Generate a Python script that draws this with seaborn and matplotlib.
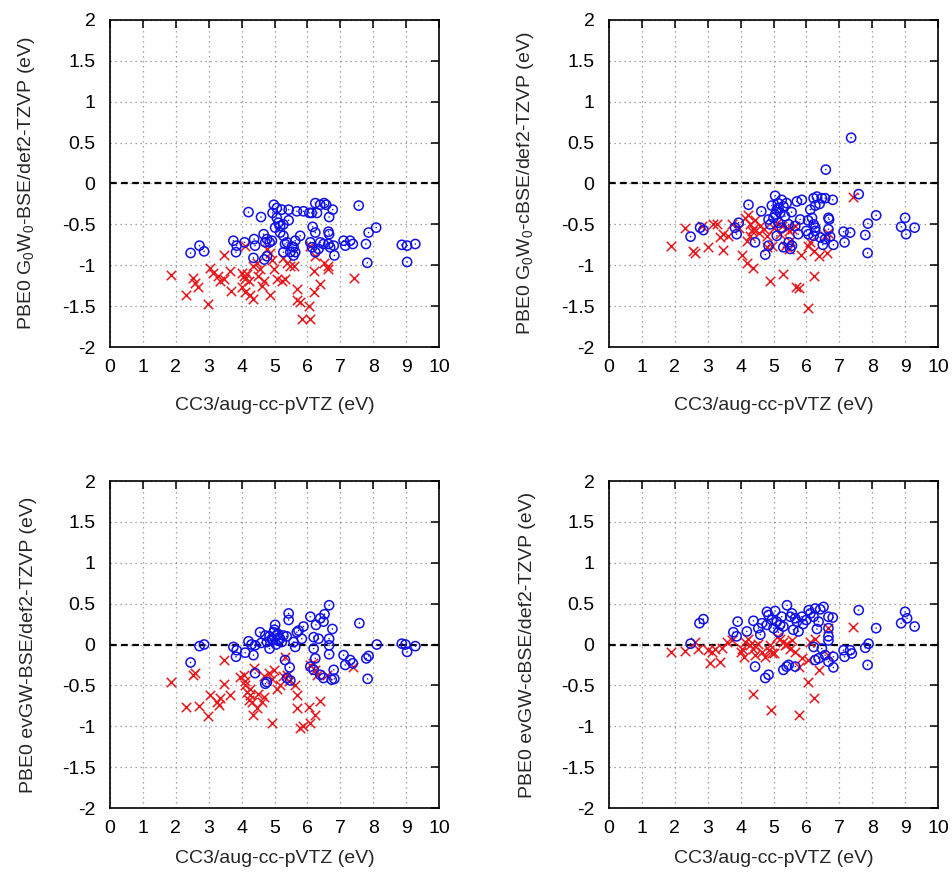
import matplotlib
matplotlib.use("Agg")
import matplotlib.pyplot as plt
import seaborn as sns
import pandas as pd
import numpy as np

# ---------------- data ----------------
tl_blue_x = [2.45,2.72,2.86,4.21,4.59,4.98,5.07,5.22,5.43,5.68,5.88,6.06,6.13,6.29,6.24,6.39,6.51,6.57,6.77,6.66,7.56,
             4.94,5.07,5.12,5.17,5.27,5.02,5.43,5.17,6.16,6.24,6.64,6.66,8.09,7.86,
             3.75,3.85,3.83,4.09,4.38,4.41,4.36,4.67,4.72,4.77,4.85,4.92,4.69,4.77,
             5.27,5.32,5.38,5.53,5.63,5.58,5.48,5.63,5.27,5.58,5.78,
             6.09,6.14,6.24,6.34,6.39,6.49,6.64,6.69,6.80,6.82,
             7.10,7.15,7.30,7.38,7.78,7.82,8.87,9.03,9.28,9.03]
tl_blue_y = [-0.85,-0.76,-0.83,-0.35,-0.41,-0.26,-0.30,-0.32,-0.32,-0.34,-0.34,-0.36,-0.36,-0.36,-0.24,-0.26,-0.24,-0.26,-0.32,-0.41,-0.27,
             -0.36,-0.42,-0.48,-0.52,-0.50,-0.54,-0.45,-0.60,-0.53,-0.60,-0.59,-0.62,-0.54,-0.60,
             -0.70,-0.76,-0.84,-0.72,-0.68,-0.76,-0.91,-0.62,-0.72,-0.68,-0.72,-0.70,-0.93,-0.89,
             -0.64,-0.74,-0.72,-0.77,-0.70,-0.78,-0.84,-0.84,-0.84,-0.88,-0.64,
             -0.72,-0.78,-0.84,-0.80,-0.72,-0.74,-0.74,-0.78,-0.76,-0.88,
             -0.70,-0.76,-0.70,-0.74,-0.74,-0.97,-0.75,-0.76,-0.74,-0.96]
tl_red_x = [1.85,2.31,2.52,2.59,2.66,2.99,3.04,3.14,3.27,3.35,3.45,3.48,3.65,3.67,
            4.00,4.06,4.11,4.16,4.21,4.09,4.00,4.11,4.26,4.36,
            4.36,4.46,4.56,4.51,4.67,4.62,4.77,4.87,4.92,4.87,
            4.97,5.07,5.22,5.32,5.27,5.37,5.48,5.58,5.68,5.68,5.78,
            6.05,5.83,6.09,6.19,6.19,6.37,6.09,6.24,6.49,6.64,6.64,7.42]
tl_red_y = [-1.12,-1.36,-1.15,-1.22,-1.27,-1.48,-1.03,-1.09,-1.13,-1.19,-1.17,-0.87,-1.07,-1.32,
            -1.09,-1.13,-1.17,-1.11,-1.19,-0.76,-1.27,-1.33,-1.37,-1.41,
            -1.01,-0.97,-1.05,-1.13,-1.19,-1.25,-0.80,-0.85,-0.93,-1.37,
            -1.05,-1.17,-1.19,-1.17,-0.91,-0.97,-1.01,-1.01,-1.29,-1.43,-1.45,
            -1.50,-1.66,-1.66,-1.07,-1.33,-1.23,-0.76,-0.89,-0.97,-1.05,-1.01,-1.16]

tr_blue_x = [7.36,6.59,7.59,4.24,
             5.05,5.13,5.25,5.40,4.95,5.10,5.20,5.30,
             5.71,5.86,6.22,6.32,6.47,6.57,6.80,6.12,6.27,
             4.63,4.85,5.00,5.05,5.15,5.25,5.46,5.66,
             5.81,6.17,6.22,6.27,6.67,6.69,
             3.94,3.83,3.88,2.77,2.87,2.48,
             4.44,4.75,4.85,5.10,5.30,5.46,5.51,5.56,
             6.00,6.06,6.22,6.27,6.42,6.57,6.67,6.72,6.82,
             7.13,7.33,7.16,7.87,7.79,8.12,7.86,9.00,8.88,9.03,9.29,
             5.15,5.35,4.90,5.55,6.40,6.05,6.50,5.75]
tr_blue_y = [0.56,0.17,-0.13,-0.26,
             -0.15,-0.24,-0.20,-0.24,-0.27,-0.32,-0.36,-0.28,
             -0.22,-0.20,-0.18,-0.16,-0.18,-0.18,-0.20,-0.32,-0.27,
             -0.34,-0.44,-0.42,-0.38,-0.48,-0.54,-0.50,-0.52,
             -0.44,-0.42,-0.50,-0.54,-0.42,-0.44,
             -0.48,-0.54,-0.62,-0.54,-0.57,-0.65,
             -0.72,-0.87,-0.76,-0.64,-0.78,-0.72,-0.80,-0.76,
             -0.58,-0.62,-0.64,-0.58,-0.66,-0.68,-0.56,-0.65,-0.75,
             -0.59,-0.60,-0.72,-0.49,-0.63,-0.39,-0.85,-0.42,-0.53,-0.62,-0.54,
             -0.30,-0.40,-0.50,-0.35,-0.25,-0.45,-0.75,-0.62]
tr_red_x = [1.89,2.31,2.54,2.62,3.02,3.48,2.82,3.17,3.28,3.73,3.38,3.48,3.63,
            4.04,4.19,4.39,4.14,4.24,4.29,4.39,4.29,4.34,
            4.60,4.70,4.80,4.95,4.80,5.10,5.25,5.41,5.46,5.56,5.66,5.35,5.46,5.51,
            4.90,5.28,5.69,5.76,5.84,6.06,6.12,6.22,6.37,6.62,6.22,6.06,7.43,6.57,6.67,
            4.45,4.55,5.00,5.20,4.20,3.95]
tr_red_y = [-0.76,-0.55,-0.83,-0.85,-0.78,-0.81,-0.52,-0.50,-0.49,-0.49,-0.66,-0.62,-0.64,
            -0.87,-0.97,-1.03,-0.42,-0.38,-0.50,-0.56,-0.64,-0.58,
            -0.52,-0.56,-0.64,-0.76,-0.78,-0.48,-0.52,-0.54,-0.58,-0.56,-0.52,-0.76,-0.80,-0.70,
            -1.19,-1.11,-1.26,-1.28,-0.87,-0.76,-0.72,-0.83,-0.89,-0.85,-1.13,-1.52,-0.17,-0.64,-0.60,
            -0.45,-0.60,-0.55,-0.62,-0.70,-0.55]

bl_blue_x = [2.45,2.72,2.86,3.75,3.85,3.83,4.11,4.36,
             4.21,4.41,4.56,4.72,4.77,4.85,4.92,5.02,4.97,5.07,5.12,5.17,5.22,5.27,5.37,5.43,5.43,
             5.58,5.63,5.68,5.73,5.83,5.88,
             6.09,6.19,6.26,6.34,6.39,6.49,6.52,6.66,6.76,6.66,6.66,6.66,
             6.19,6.24,6.09,6.19,6.39,6.49,6.74,6.80,6.82,
             5.32,5.46,5.38,5.48,4.41,4.72,4.77,
             7.10,7.15,7.30,7.38,7.58,7.79,7.86,7.83,8.11,8.87,8.98,9.03,9.28,
             4.95,5.05,5.10,4.85,5.00,4.60,4.30]
bl_blue_y = [-0.22,-0.02,0.00,-0.03,-0.07,-0.15,-0.10,-0.13,
             0.04,-0.01,0.15,0.11,0.03,-0.05,0.07,0.24,0.15,0.11,0.05,0.07,0.03,0.11,0.10,0.38,0.30,
             0.03,-0.03,0.15,0.17,0.07,0.22,
             0.34,0.09,0.24,0.07,0.32,0.28,0.37,0.48,0.19,0.07,-0.01,-0.12,
             -0.05,-0.17,-0.27,-0.31,-0.37,-0.41,-0.43,-0.31,-0.42,
             -0.19,-0.28,-0.41,-0.44,-0.35,-0.48,-0.46,
             -0.13,-0.25,-0.19,-0.23,0.26,-0.17,-0.14,-0.42,0.00,0.01,0.00,-0.09,-0.02,
             0.05,0.00,0.13,0.10,0.18,0.02,0.00]
bl_red_x = [1.85,2.31,2.69,2.97,2.52,2.59,3.48,3.04,3.25,3.30,3.35,3.65,3.48,
            4.06,4.11,4.16,4.26,4.21,4.31,4.36,4.46,4.62,4.67,
            4.39,4.67,4.82,4.97,4.92,5.07,5.17,5.27,5.38,5.32,4.91,
            5.63,5.68,5.68,5.78,5.88,6.09,6.05,6.24,6.37,6.09,6.24,6.29,6.59,7.40,6.17,
            4.10,4.25,4.50,3.95,5.45]
bl_red_y = [-0.46,-0.77,-0.75,-0.87,-0.37,-0.35,-0.19,-0.62,-0.70,-0.74,-0.66,-0.62,-0.48,
            -0.37,-0.50,-0.58,-0.62,-0.68,-0.70,-0.86,-0.78,-0.70,-0.64,
            -0.29,-0.39,-0.35,-0.31,-0.42,-0.54,-0.50,-0.39,-0.37,-0.15,-0.96,
            -0.50,-0.62,-0.78,-1.02,-1.00,-0.96,-0.76,-0.86,-0.69,-0.25,-0.31,-0.37,-0.37,-0.27,-0.23,
            -0.45,-0.55,-0.60,-0.40,-0.45]

br_blue_x = [2.48,2.75,2.87,3.78,3.88,3.91,
             4.19,4.39,4.54,4.65,4.80,4.85,4.80,4.95,5.05,5.10,5.20,5.25,5.41,5.51,5.56,5.66,5.71,5.76,5.86,
             6.07,6.12,6.27,6.22,6.37,6.32,6.42,6.52,6.67,6.80,6.67,6.67,6.67,
             6.22,6.27,6.37,6.47,6.57,6.67,6.82,6.82,
             5.46,5.30,5.40,5.66,4.44,4.75,4.85,
             7.13,7.33,7.38,7.16,7.59,7.89,7.79,7.86,8.12,9.00,8.88,9.06,9.29,
             5.00,5.15,5.30,4.60,5.60,5.90,6.00]
br_blue_y = [0.01,0.26,0.31,0.15,0.10,0.28,
             0.16,0.29,0.20,0.26,0.40,0.36,0.24,0.30,0.41,0.28,0.24,0.34,0.48,0.34,0.38,0.32,0.28,0.16,0.34,
             0.42,0.38,0.44,0.34,0.28,0.19,0.43,0.46,0.34,0.33,0.20,0.10,0.05,
             -0.03,-0.19,-0.17,-0.05,-0.13,-0.21,-0.15,-0.28,
             -0.25,-0.31,-0.27,-0.27,-0.27,-0.41,-0.37,
             -0.07,-0.07,-0.11,-0.15,0.42,0.01,-0.04,-0.25,0.20,0.40,0.26,0.32,0.22,
             0.20,0.15,0.22,0.12,0.18,0.25,0.30]
br_red_x = [1.89,2.31,2.62,2.72,3.02,3.07,3.38,3.12,3.22,3.43,3.58,3.73,
            4.00,4.05,4.14,4.24,4.29,4.39,4.44,4.54,
            4.65,4.75,4.85,4.95,5.10,5.20,5.30,5.35,5.40,5.51,5.66,
            4.39,4.93,5.79,6.06,6.22,5.76,5.86,6.06,6.12,6.27,6.37,6.67,6.67,7.43,
            4.10,4.45,4.90,5.55,5.00]
br_red_y = [-0.09,-0.08,0.03,-0.06,-0.07,-0.23,-0.22,-0.09,-0.05,-0.04,0.03,0.05,
            -0.09,-0.05,0.03,0.07,-0.01,-0.05,-0.13,0.01,
            -0.09,-0.15,-0.07,-0.11,0.09,0.07,0.03,-0.01,0.01,-0.05,-0.09,
            -0.61,-0.80,-0.86,-0.46,-0.65,-0.27,-0.17,-0.19,0.03,0.07,-0.31,0.20,-0.13,0.22,
            -0.15,-0.02,0.00,0.05,-0.10]

x_label = "CC3/aug-cc-pVTZ (eV)"
y_labels = [r"PBE0 G$_0$W$_0$-BSE/def2-TZVP (eV)",
            r"PBE0 G$_0$W$_0$-cBSE/def2-TZVP (eV)",
            r"PBE0 evGW-BSE/def2-TZVP (eV)",
            r"PBE0 evGW-cBSE/def2-TZVP (eV)"]
x_ticks = list(range(0, 11))
y_ticks = [-2, -1.5, -1, -0.5, 0, 0.5, 1, 1.5, 2]
y_tick_labels = ["-2", "-1.5", "-1", "-0.5", "0", "0.5", "1", "1.5", "2"]

panels = [
    (tl_blue_x, tl_blue_y, tl_red_x, tl_red_y),
    (tr_blue_x, tr_blue_y, tr_red_x, tr_red_y),
    (bl_blue_x, bl_blue_y, bl_red_x, bl_red_y),
    (br_blue_x, br_blue_y, br_red_x, br_red_y),
]

# ---------------- style ----------------
sns.set_style("white")
plt.rcParams['font.family'] = ['Liberation Sans', 'DejaVu Sans']
plt.rcParams['mathtext.fontset'] = 'custom'
plt.rcParams['mathtext.rm'] = 'Liberation Sans'
plt.rcParams['mathtext.it'] = 'Liberation Sans'
plt.rcParams['mathtext.default'] = 'regular'

BLUE = "#1010e8"
RED = "#e8181c"
FS = 14

fig = plt.figure(figsize=(9.52, 8.72), dpi=100)
W, H = 952, 872
# (left, top, width, height) in pixels
boxes = [(110, 20, 329, 327), (609, 20, 329, 327),
         (110, 481, 329, 327), (609, 481, 329, 327)]
xlabel_y = [-0.152, -0.152, -0.128, -0.128]

for i, (box, data) in enumerate(zip(boxes, panels)):
    l, t, w, h = box
    ax = fig.add_axes([l / W, 1 - (t + h) / H, w / W, h / H])
    bx, by, rx, ry = data
    dfb = pd.DataFrame({"x": bx, "y": by})
    dfr = pd.DataFrame({"x": rx, "y": ry})
    ax.grid(True, color="#8a8a8a", linestyle=(0, (1, 3)), linewidth=0.9)
    ax.set_axisbelow(True)
    ax.axhline(0, color="black", linestyle=(0, (3, 2)), linewidth=1.6, zorder=1)
    sns.scatterplot(data=dfr, x="x", y="y", ax=ax, marker="x", s=46,
                    color=RED, edgecolor=RED, linewidth=1.1, zorder=3)
    sns.scatterplot(data=dfb, x="x", y="y", ax=ax, marker="o", s=44,
                    facecolor="none", edgecolor=BLUE, linewidth=1.1, zorder=4)
    sns.scatterplot(data=dfb, x="x", y="y", ax=ax, marker="o", s=1.2,
                    color=BLUE, edgecolor="none", linewidth=0, zorder=5)
    ax.set_xlim(0, 10)
    ax.set_ylim(-2, 2)
    ax.set_xticks(x_ticks)
    ax.set_yticks(y_ticks)
    ax.set_yticklabels(y_tick_labels)
    ax.tick_params(direction="in", length=6, width=1.1, top=True, right=True,
                   labelsize=FS, colors="black")
    ax.tick_params(axis="x", pad=8.5)
    ax.tick_params(axis="y", pad=10.5)
    for sp in ax.spines.values():
        sp.set_color("black")
        sp.set_linewidth(1.2)
    ax.set_xlabel(x_label, fontsize=FS)
    ax.set_ylabel(y_labels[i], fontsize=FS)
    ax.xaxis.set_label_coords(0.5, xlabel_y[i])
    ax.yaxis.set_label_coords(-0.222, 0.5)

fig.savefig("out.png", dpi=100)
